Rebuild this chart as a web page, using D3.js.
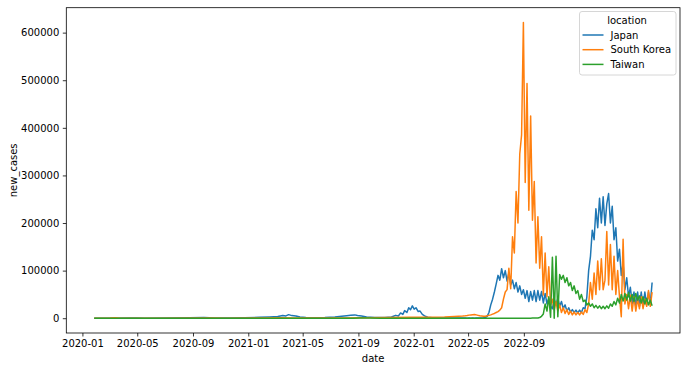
<!DOCTYPE html>
<html>
<head>
<meta charset="utf-8">
<script src="https://cdn.jsdelivr.net/npm/d3@7"></script>
<style>
  body { margin: 0; background: #fff; }
  text { font-family: "DejaVu Sans", sans-serif; }
</style>
</head>
<body>
<svg id="chart" width="687" height="371"></svg>
<script>
const locations = ['Japan', 'South Korea', 'Taiwan']
const colors = ['#1f77b4', '#ff7f0e', '#2ca02c']
const yTicks = [0, 100000, 200000, 300000, 400000, 500000, 600000]
const xTickLabels = ['2020-01', '2020-05', '2020-09', '2021-01', '2021-05', '2021-09', '2022-01', '2022-05', '2022-09']

// readings before the dense block, [date, new_cases]
const japanEarly = [
    ['2020-01-27', 0], ['2020-03-02', 50], ['2020-04-15', 400], ['2020-04-30', 600], ['2020-05-18', 100],
    ['2020-07-12', 200], ['2020-08-25', 1000], ['2020-09-25', 1500], ['2020-10-19', 700], ['2020-11-21', 500],
    ['2020-12-24', 1000], ['2021-01-26', 2000], ['2021-02-17', 2800], ['2021-03-07', 3800], ['2021-03-18', 5500],
    ['2021-03-25', 4800], ['2021-03-31', 7500], ['2021-04-07', 5500], ['2021-04-16', 4500], ['2021-04-25', 2500],
    ['2021-05-08', 1500], ['2021-05-28', 1000], ['2021-06-19', 1300], ['2021-07-11', 2500], ['2021-07-26', 4000],
    ['2021-08-06', 5000], ['2021-08-15', 6000], ['2021-08-24', 7000], ['2021-08-30', 5500], ['2021-09-08', 4500],
    ['2021-09-19', 2500], ['2021-10-07', 1500], ['2021-10-29', 1700], ['2021-11-13', 2500], ['2021-11-22', 6000],
    ['2021-11-28', 4500], ['2021-12-03', 11000], ['2021-12-08', 8000], ['2021-12-12', 16000], ['2021-12-17', 12000],
    ['2021-12-21', 22000], ['2021-12-25', 18000], ['2021-12-29', 26000], ['2022-01-02', 19000], ['2022-01-06', 22000],
    ['2022-01-11', 14000], ['2022-01-15', 15000], ['2022-01-20', 8000], ['2022-01-25', 5000], ['2022-02-01', 2000],
    ['2022-02-16', 600], ['2022-03-21', 200], ['2022-04-19', 200]
]
const koreaEarly = [
    ['2020-01-27', 0], ['2020-03-02', 300], ['2020-03-13', 800], ['2020-03-24', 150], ['2020-06-20', 50],
    ['2020-10-13', 350], ['2020-11-11', 100], ['2021-02-06', 600], ['2021-03-11', 1000], ['2021-04-13', 400],
    ['2021-07-22', 600], ['2021-11-09', 1500], ['2021-12-23', 2000], ['2022-02-05', 1800], ['2022-03-10', 2500],
    ['2022-04-01', 3500], ['2022-04-19', 4500]
]
const taiwanEarly = [
    ['2020-01-27', 0], ['2021-08-20', 100], ['2021-09-04', 500], ['2021-09-25', 200], ['2021-10-20', 50],
    ['2022-04-19', 100]
]

// dense block: one reading every 4 days from denseStart
const denseStart = '2022-04-25'
const denseStepDays = 4
const japanDense = [
    200, 150, 200, 150, 200, 150, 250, 200, 300, 400,
    800, 1500, 4000, 12000, 28000, 40000, 55000, 72000, 90000, 80000,
    104000, 85000, 100000, 78000, 95000, 70000, 80000, 62000, 75000, 55000,
    68000, 50000, 60000, 42000, 58000, 35000, 56000, 38000, 58000, 35000,
    58000, 38000, 56000, 32000, 52000, 30000, 42000, 25000, 20000, 40000,
    28000, 42000, 25000, 35000, 20000, 28000, 15000, 22000, 13000, 18000,
    12000, 17000, 11000, 17000, 12000, 22000, 20000, 45000, 100000, 130000,
    185000, 165000, 230000, 190000, 252000, 200000, 255000, 195000, 240000, 262000,
    200000, 235000, 165000, 190000, 120000, 145000, 90000, 115000, 60000, 85000,
    45000, 65000, 30000, 55000, 25000, 55000, 25000, 55000, 25000, 55000,
    28000, 55000, 30000, 75000
]
const koreaDense = [
    5000, 5500, 6500, 7000, 7500, 7800, 7000, 6000, 5000, 4500,
    4000, 4000, 5000, 6000, 7000, 8500, 10000, 12000, 14000, 17000,
    22000, 40000, 55000, 60000, 105000, 62000, 171000, 137000, 266000, 200000,
    345000, 385000, 621328, 285000, 493000, 227000, 425000, 206000, 287000, 116000,
    213000, 105000, 171000, 49000, 137000, 45000, 108000, 28000, 40000, 18000,
    35000, 15000, 28000, 12000, 22000, 10000, 18000, 8000, 15000, 7000,
    13000, 7000, 12000, 7000, 13000, 8000, 18000, 12000, 30000, 75000,
    40000, 95000, 50000, 120000, 60000, 125000, 60000, 80000, 182000, 70000,
    155000, 60000, 130000, 50000, 100000, 45000, 3000, 166000, 30000, 50000,
    20000, 48000, 15000, 45000, 15000, 40000, 20000, 45000, 20000, 40000,
    25000, 58000, 25000, 55000
]
const taiwanDense = [
    100, 100, 100, 100, 100, 100, 100, 100, 100, 100,
    100, 100, 100, 100, 100, 100, 100, 100, 100, 100,
    100, 100, 100, 100, 100, 100, 100, 100, 100, 100,
    100, 100, 100, 100, 100, 150, 150, 200, 200, 300,
    500, 1500, 4000, 9000, 30000, 15000, 45000, 2000, 128000, 0,
    130000, 3000, 92000, 82000, 90000, 75000, 85000, 68000, 75000, 58000,
    68000, 52000, 58000, 40000, 50000, 35000, 38000, 28000, 32000, 25000,
    30000, 22000, 27000, 21000, 26000, 20000, 25000, 20000, 26000, 21000,
    30000, 25000, 35000, 28000, 42000, 32000, 50000, 36000, 52000, 38000,
    54000, 36000, 50000, 35000, 52000, 38000, 47000, 32000, 45000, 30000,
    42000, 28000, 38000, 26000
]

const parseDay = d3.utcParse('%Y-%m-%d')
const parseMonth = d3.utcParse('%Y-%m')

function buildSeries(early, dense) {
    const start = parseDay(denseStart)
    const pts = early.map(([d, v]) => ({ date: parseDay(d), value: v }))
    dense.forEach((v, i) => {
        pts.push({ date: d3.utcDay.offset(start, i * denseStepDays), value: v })
    })
    return pts
}

const series = [
    buildSeries(japanEarly, japanDense),
    buildSeries(koreaEarly, koreaDense),
    buildSeries(taiwanEarly, taiwanDense)
]

const plotLeft = 66.3, plotRight = 680, plotTop = 7.7, plotBottom = 333
const svg = d3.select('#chart')

const allPts = series.flat()
const [d0, d1] = d3.extent(allPts, d => d.date)
const dPad = (d1 - d0) * 0.05
const x = d3.scaleUtc()
    .domain([new Date(+d0 - dPad), new Date(+d1 + dPad)])
    .range([plotLeft, plotRight])

const vMax = d3.max(allPts, d => d.value)
const vPad = vMax * 0.05
const y = d3.scaleLinear()
    .domain([-vPad, vMax + vPad])
    .range([plotBottom, plotTop])

svg.append('defs').append('clipPath').attr('id', 'clip')
    .append('rect')
    .attr('x', plotLeft).attr('y', plotTop)
    .attr('width', plotRight - plotLeft).attr('height', plotBottom - plotTop)

const line = d3.line()
    .x(d => x(d.date))
    .y(d => y(d.value))

svg.append('g')
    .attr('clip-path', 'url(#clip)')
    .selectAll('path')
    .data(series)
    .enter()
    .append('path')
    .attr('d', line)
    .attr('fill', 'none')
    .attr('stroke', (d, i) => colors[i])
    .attr('stroke-width', 1.5)
    .attr('stroke-linejoin', 'round')

// axes
const yAxis = svg.append('g')
    .attr('transform', `translate(${plotLeft},0)`)
    .call(d3.axisLeft(y).tickValues(yTicks).tickFormat(d3.format('d')).tickSize(3.5).tickPadding(3.5))
const xAxis = svg.append('g')
    .attr('transform', `translate(0,${plotBottom})`)
    .call(d3.axisBottom(x).tickValues(xTickLabels.map(parseMonth)).tickFormat(d3.utcFormat('%Y-%m')).tickSize(3.5).tickPadding(3.5))

;[xAxis, yAxis].forEach(g => {
    g.select('.domain').remove()
    g.selectAll('line').attr('stroke', '#000').attr('stroke-width', 0.8)
    g.selectAll('text')
        .attr('font-family', '"DejaVu Sans", sans-serif')
        .attr('font-size', 10)
        .attr('fill', '#000')
})

svg.append('rect')
    .attr('x', plotLeft).attr('y', plotTop)
    .attr('width', plotRight - plotLeft).attr('height', plotBottom - plotTop)
    .attr('fill', 'none')
    .attr('stroke', '#000')
    .attr('stroke-width', 0.8)

svg.append('text')
    .attr('x', (plotLeft + plotRight) / 2)
    .attr('y', 362)
    .attr('text-anchor', 'middle')
    .attr('font-size', 10)
    .text('date')

svg.append('text')
    .attr('transform', `translate(16.5,${(plotTop + plotBottom) / 2}) rotate(-90)`)
    .attr('text-anchor', 'middle')
    .attr('font-size', 10)
    .text('new_cases')

// legend
const legend = svg.append('g')
legend.append('rect')
    .attr('x', 579.5).attr('y', 11.5)
    .attr('width', 96.5).attr('height', 63.5)
    .attr('rx', 2.5)
    .attr('fill', '#fff')
    .attr('fill-opacity', 0.8)
    .attr('stroke', '#cccccc')
    .attr('stroke-width', 0.8)
legend.append('text')
    .attr('x', 627).attr('y', 23.5)
    .attr('text-anchor', 'middle')
    .attr('font-size', 10)
    .text('location')
const entry = legend.selectAll('g.entry')
    .data(locations)
    .enter()
    .append('g')
    .attr('class', 'entry')
    .attr('transform', (d, i) => `translate(0,${35 + i * 14.7})`)
entry.append('line')
    .attr('x1', 582.5).attr('x2', 603.5)
    .attr('stroke', (d, i) => colors[i])
    .attr('stroke-width', 1.5)
entry.append('text')
    .attr('x', 610.5).attr('y', 3.6)
    .attr('font-size', 10)
    .text(d => d)
</script>
</body>
</html>
